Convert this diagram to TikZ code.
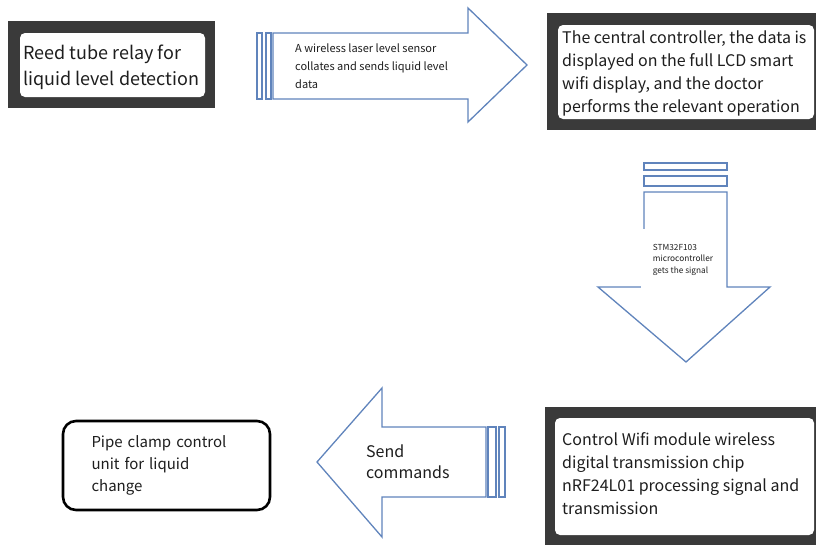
\documentclass[tikz,border=0pt]{standalone}
\usepackage{fontspec}
\setmainfont{Noto Sans CJK SC}
\usepackage{xcolor}
\usepackage{tikz}
\usetikzlibrary{positioning}
\definecolor{arrowblue}{RGB}{96,132,188}
\definecolor{framegray}{RGB}{58,58,58}
\definecolor{inkgray}{RGB}{30,30,30}
\tikzset{
  frame box/.style={fill=framegray, inner sep=0pt},
  screen/.style={fill=white, rounded corners=5pt, inner sep=0pt},
  plain box/.style={draw=black, line width=2.6pt, rounded corners=13pt, fill=white, align=left, text=inkgray},
  block arrow/.style={draw=arrowblue, line width=1.3pt, fill=white, line join=miter},
  tail bar/.style={draw=arrowblue, line width=1.1pt},
  box text/.style={font=\fontsize{16}{23}\selectfont, align=left, inner sep=0pt, anchor=west, text=inkgray},
  arrow text/.style={font=\fontsize{11}{18}\selectfont, align=left, inner sep=0pt, text=inkgray},
}

\begin{document}
\begin{tikzpicture}[x=1pt, y=-1pt]

  \useasboundingbox (0,0) rectangle (816,549);

  % Define nodes
  \node[frame box, minimum width=207pt, minimum height=87pt] (reed_frame) at (111.5,64.5) {};
  \node[screen, minimum width=185pt, minimum height=64pt] (reed_screen) at (112.5,65) {};
  \node[box text, font=\fontsize{18}{25.5}\selectfont] (reed) at (23,67.5) {Reed tube relay for\\liquid level detection};

  \node[frame box, minimum width=272pt, minimum height=117pt] (lcd_frame) at (683,71.5) {};
  \node[screen, minimum width=256pt, minimum height=94pt] (lcd_screen) at (686,72) {};
  \node[box text] (lcd) at (562,73) {The central controller, the data is\\displayed on the full LCD smart\\wifi display, and the doctor\\performs the relevant operation};

  \node[frame box, minimum width=274pt, minimum height=138pt] (wifi_frame) at (682,476) {};
  \node[screen, minimum width=259pt, minimum height=117pt] (wifi_screen) at (684.5,476.5) {};
  \node[box text] (wifi) at (562,473.5) {Control Wifi module wireless\\digital transmission chip\\nRF24L01 processing signal and\\transmission};

  \node[plain box, minimum width=207pt, minimum height=89pt, text width=150pt, font=\fontsize{15}{22}\selectfont] (clamp) at (166.5,465.5) {Pipe clamp control\\unit for liquid\\change};

  % Block arrows
  \draw[block arrow] (273,33) -- (468,33) -- (468,8) -- (527,65) -- (468,122) -- (468,99) -- (273,99) -- cycle;
  \draw[tail bar] (257,33) rectangle (262,99);
  \draw[tail bar] (266,33) rectangle (271,99);
  \node[arrow text, anchor=west] (sensor_text) at (295,66) {A wireless laser level sensor\\collates and sends liquid level\\data};

  \draw[tail bar] (644,163) rectangle (727,170);
  \draw[tail bar] (644,176) rectangle (727,186);
  \draw[block arrow] (644,192) -- (727,192) -- (727,287) -- (770,287) -- (686,362) -- (598,287) -- (644,287) -- cycle;
  \node[arrow text, fill=white, minimum width=84pt, minimum height=61pt, font=\fontsize{8.3}{11.5}\selectfont] (mcu_text) at (683,259.5) {STM32F103\\microcontroller\\gets the signal};

  \draw[block arrow] (486,427) -- (382,427) -- (382,388) -- (317,462) -- (382,537) -- (382,497) -- (486,497) -- cycle;
  \draw[tail bar] (488,427) rectangle (496,497);
  \draw[tail bar] (499,427) rectangle (505,497);
  \node[arrow text, anchor=west, font=\fontsize{16}{21}\selectfont] (send_text) at (366,462) {Send\\commands};

\end{tikzpicture}
\end{document}
